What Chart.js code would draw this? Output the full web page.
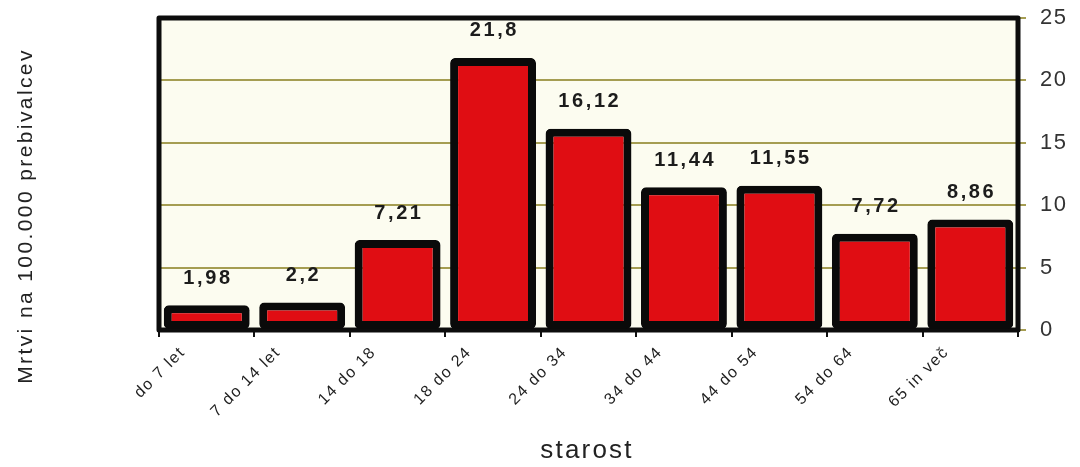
<!DOCTYPE html>
<html>
<head>
<meta charset="utf-8">
<script src="https://cdn.jsdelivr.net/npm/chart.js@4.4.1/dist/chart.umd.min.js"></script>
<style>
  html, body { margin: 0; padding: 0; background: #ffffff; }
  canvas { display: block; }
</style>
</head>
<body>
<canvas id="chart" width="1080" height="467"></canvas>
<script>
// Age groups and road deaths per 100,000 inhabitants
const ageGroups = ['do 7 let', '7 do 14 let', '14 do 18', '18 do 24', '24 do 34', '34 do 44', '44 do 54', '54 do 64', '65 in več'];
const deathsPer100k = [1.98, 2.2, 7.21, 21.8, 16.12, 11.44, 11.55, 7.72, 8.86];
const yTickValues = [0, 5, 10, 15, 20, 25];
const yAxisTitle = 'Mrtvi na 100.000 prebivalcev';
const xAxisTitle = 'starost';

const FONT = '"Liberation Sans", Arial, sans-serif';

// Decimal comma, as used in Slovenian
const fmt = v => String(v).replace('.', ',');

const decorations = {
  id: 'decorations',
  beforeLayout(chart) {
    chart.ctx.letterSpacing = '1.5px';
  },
  beforeDraw(chart) {
    const { ctx, chartArea: a } = chart;
    ctx.letterSpacing = '1.5px';
    ctx.save();
    ctx.fillStyle = '#fcfcf0';
    ctx.fillRect(a.left, a.top, a.right - a.left, a.bottom - a.top);
    ctx.restore();
  },
  beforeDatasetsDraw(chart) {
    const { ctx, chartArea: a } = chart;
    ctx.save();
    ctx.strokeStyle = '#0c0c0c';
    ctx.lineWidth = 5;
    ctx.lineJoin = 'round';
    ctx.strokeRect(a.left, a.top, a.right - a.left, a.bottom - a.top);
    ctx.restore();
  },
  afterDatasetsDraw(chart) {
    const { ctx } = chart;
    const meta = chart.getDatasetMeta(0);
    const yScale = chart.scales.y;
    ctx.save();
    ctx.font = 'bold 20px ' + FONT;
    ctx.letterSpacing = '2.6px';
    ctx.fillStyle = '#1c1c1c';
    ctx.textAlign = 'center';
    ctx.textBaseline = 'middle';
    meta.data.forEach((bar, i) => {
      const v = deathsPer100k[i];
      ctx.fillText(fmt(v), bar.x + 1.3, yScale.getPixelForValue(v) - 27);
    });
    ctx.restore();
  },
  afterDraw(chart) {
    const { ctx } = chart;
    ctx.save();
    ctx.fillStyle = '#222222';
    ctx.textAlign = 'center';
    ctx.textBaseline = 'middle';
    // vertical axis title on the left
    ctx.font = '21px ' + FONT;
    ctx.letterSpacing = '2.4px';
    ctx.save();
    ctx.translate(26, 216);
    ctx.rotate(-Math.PI / 2);
    ctx.fillText(yAxisTitle, 0, 0);
    ctx.restore();
    // horizontal axis title
    ctx.font = '26px ' + FONT;
    ctx.letterSpacing = '2.2px';
    ctx.fillText(xAxisTitle, 587, 451);
    ctx.restore();
  }
};

new Chart(document.getElementById('chart'), {
  type: 'bar',
  data: {
    labels: ageGroups,
    datasets: [{
      data: deathsPer100k,
      backgroundColor: '#e00d13',
      borderColor: '#0a0a0a',
      borderWidth: 8,
      borderRadius: 5,
      borderSkipped: false,
      barPercentage: 0.9,
      categoryPercentage: 1.0
    }]
  },
  options: {
    responsive: false,
    animation: false,
    devicePixelRatio: 1,
    layout: { padding: { left: 159, top: 18, right: 0, bottom: 0 } },
    plugins: { legend: { display: false }, tooltip: { enabled: false } },
    scales: {
      x: {
        grid: { offset: true, drawOnChartArea: false, drawTicks: true, tickLength: 7, color: '#111111', lineWidth: 2 },
        border: { display: false },
        ticks: {
          autoSkip: false, minRotation: 45, maxRotation: 45,
          labelOffset: -24, padding: 6,
          color: '#1e1e1e', font: { family: FONT, size: 16 }
        },
        afterFit(scale) {
          scale.height = 137;
          scale.paddingLeft = 0;
          scale.paddingRight = 0;
        }
      },
      y: {
        position: 'right',
        min: 0, max: 25,
        afterBuildTicks(scale) { scale.ticks = yTickValues.map(v => ({ value: v })); },
        ticks: { padding: 14, color: '#333333', font: { family: FONT, size: 22 } },
        grid: { color: '#a59d52', lineWidth: 2, tickLength: 8, drawTicks: true },
        border: { display: false },
        afterFit(scale) {
          scale.width = 62;
          scale.paddingTop = 0;
          scale.paddingBottom = 0;
        }
      }
    }
  },
  plugins: [decorations]
});
</script>
</body>
</html>
